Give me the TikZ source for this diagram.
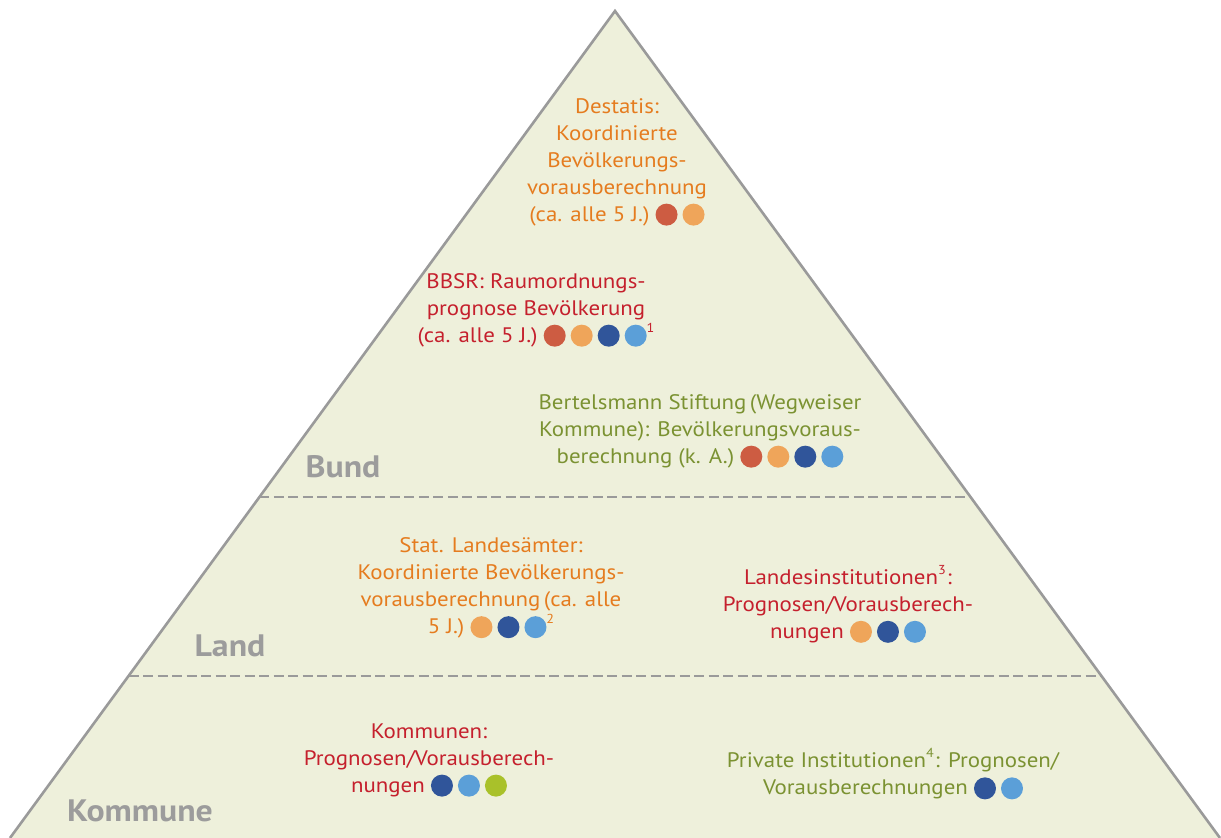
\documentclass[tikz,border=0pt]{standalone}
\usepackage{fontspec}
\setmainfont{PT Sans}[FakeStretch=1.09]
\usetikzlibrary{calc}

\definecolor{pyrfill}{HTML}{EEF0DB}
\definecolor{edgegray}{HTML}{9A9A9A}
\definecolor{lblgray}{HTML}{9C9C9C}
\definecolor{txtorange}{HTML}{E57C1F}
\definecolor{txtred}{HTML}{C5202D}
\definecolor{txtgreen}{HTML}{7B9232}
\definecolor{dotred}{HTML}{CD5C42}
\definecolor{dotorange}{HTML}{EFA55A}
\definecolor{dotdkblue}{HTML}{30559A}
\definecolor{dotltblue}{HTML}{5B9FD8}
\definecolor{dotgreen}{HTML}{A9C12A}

% inline coloured dot used after the entries
\newcommand{\pdot}[1]{\tikz[x=1pt,y=1pt,baseline=-6.5pt]\fill[#1] (0,0) circle[radius=11pt];}
\newcommand{\dotgap}{\hspace{5pt}}
\newcommand{\fnote}[1]{\raisebox{10pt}{\fontsize{13}{13}\selectfont #1}}

\tikzset{
  edge/.style={draw=edgegray, line width=2.6pt, line join=miter},
  divider/.style={draw=edgegray, line width=2.6pt, dash pattern=on 10pt off 4.5pt},
  entry/.style={align=center, inner sep=0pt, font=\fontsize{21}{27}\selectfont},
  level/.style={inner sep=0pt, text=lblgray, font=\fontsize{31}{31}\selectfont\bfseries},
}

\begin{document}
\begin{tikzpicture}[x=1pt,y=-1pt]
\useasboundingbox (0,0) rectangle (1221,838);

% pyramid outline
\coordinate (apex) at (615,11);
\coordinate (bl) at (10,838);
\coordinate (br) at (1220,838);
\fill[pyrfill] (bl) -- (apex) -- (br) -- cycle;

% level dividers
\coordinate (d1l) at ($(apex)!{486/827}!(bl)$);
\coordinate (d1r) at ($(apex)!{486/827}!(br)$);
\coordinate (d2l) at ($(apex)!{665/827}!(bl)$);
\coordinate (d2r) at ($(apex)!{665/827}!(br)$);
\draw[divider] (d1l) -- (d1r);
\draw[divider] (d2l) -- (d2r);

\draw[edge] (bl) -- (apex) -- (br);

% level labels
\node[level] (bund) at (343,467) {Bund};
\node[level] (land) at (230,646) {Land};
\node[level] (kommune) at (140,811) {Kommune};

% federal level
\node[entry, text=txtorange] (destatis) at (617,162)
  {Destatis:\\Koordinierte\\Bevölkerungs-\\vorausberechnung\\(ca. alle 5 J.) \pdot{dotred}\dotgap\pdot{dotorange}};
\node[entry, text=txtred] (bbsr) at (536,310)
  {BBSR: Raumordnungs-\\prognose Bevölkerung\\(ca. alle 5 J.) \pdot{dotred}\dotgap\pdot{dotorange}\dotgap\pdot{dotdkblue}\dotgap\pdot{dotltblue}\fnote{1}};
\node[entry, text=txtgreen] (bertelsmann) at (700,431)
  {Bertelsmann Stiftung\,(Wegweiser\\Kommune): Bevölkerungsvoraus-\\berechnung (k. A.) \pdot{dotred}\dotgap\pdot{dotorange}\dotgap\pdot{dotdkblue}\dotgap\pdot{dotltblue}};

% state level
\node[entry, text=txtorange] (statla) at (491,588)
  {Stat. Landesämter:\\Koordinierte Bevölkerungs-\\vorausberechnung\,(ca. alle\\5 J.) \pdot{dotorange}\dotgap\pdot{dotdkblue}\dotgap\pdot{dotltblue}\fnote{2}};
\node[entry, text=txtred] (landinst) at (848,604)
  {Landesinstitutionen\fnote{3}\hspace{1pt}:\\Prognosen/Vorausberech-\\nungen \pdot{dotorange}\dotgap\pdot{dotdkblue}\dotgap\pdot{dotltblue}};

% municipal level
\node[entry, text=txtred] (kommunen) at (429,760)
  {Kommunen:\\Prognosen/Vorausberech-\\nungen \pdot{dotdkblue}\dotgap\pdot{dotltblue}\dotgap\pdot{dotgreen}};
\node[entry, text=txtgreen] (privat) at (893,774)
  {Private Institutionen\fnote{4}\hspace{1pt}: Prognosen/\\Vorausberechnungen \pdot{dotdkblue}\dotgap\pdot{dotltblue}};
\end{tikzpicture}
\end{document}
